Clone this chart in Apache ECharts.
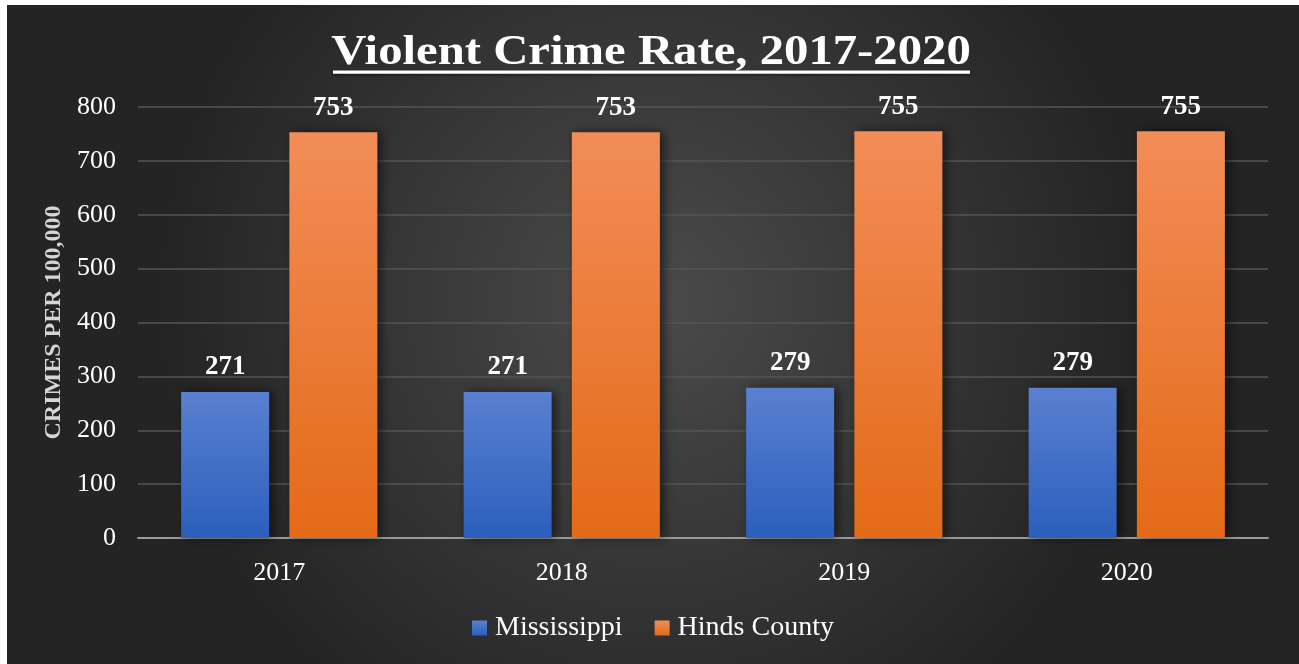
<!DOCTYPE html>
<html>
<head>
<meta charset="utf-8">
<script src="https://cdn.jsdelivr.net/npm/echarts@6/dist/echarts.min.js"></script>
<style>
  html, body { margin: 0; padding: 0; background: #ffffff; }
  #chart { position: absolute; left: 7px; top: 5px; width: 1292px; height: 659px; }
</style>
</head>
<body>
<div id="chart"></div>
<script>
const years = ['2017', '2018', '2019', '2020'];
const mississippi = [271, 271, 279, 279];
const hindsCounty = [753, 753, 755, 755];
const yTicks = [0, 100, 200, 300, 400, 500, 600, 700, 800];
const titleText = 'Violent Crime Rate, 2017-2020';

const serif = '"Liberation Serif", "Times New Roman", serif';
const chart = echarts.init(document.getElementById('chart'));

function barGradient(top, bottom) {
  return new echarts.graphic.LinearGradient(0, 0, 0, 1, [
    { offset: 0, color: top },
    { offset: 1, color: bottom }
  ]);
}

const labelStyle = {
  show: true,
  position: 'top',
  distance: 11,
  color: '#ffffff',
  fontFamily: serif,
  fontWeight: 'bold',
  fontSize: 27
};

const barShadow = {
  shadowColor: 'rgba(0,0,0,0.55)',
  shadowBlur: 10,
  shadowOffsetX: 4
};

chart.setOption({
  backgroundColor: {
    type: 'radial', x: 0.5, y: 0.45, r: 0.75,
    colorStops: [
      { offset: 0, color: '#4b4b4b' },
      { offset: 1, color: '#242424' }
    ]
  },
  graphic: [
    {
      // spaced-out, underlined heading
      type: 'text',
      x: 644,
      y: 48,
      scaleX: 1.16,
      style: {
        text: titleText,
        fill: '#ffffff',
        font: 'bold 42px ' + serif,
        align: 'center',
        verticalAlign: 'middle',
        shadowColor: 'rgba(0,0,0,0.6)',
        shadowBlur: 4,
        shadowOffsetX: 2,
        shadowOffsetY: 2
      }
    },
    {
      type: 'rect',
      shape: { x: 326, y: 65.5, width: 637, height: 3.2 },
      style: { fill: '#ffffff', shadowColor: 'rgba(0,0,0,0.6)', shadowBlur: 3, shadowOffsetY: 1 }
    }
  ],
  legend: {
    bottom: 17,
    left: 'center',
    itemWidth: 15,
    itemHeight: 15,
    itemGap: 32,
    icon: 'rect',
    textStyle: { color: '#ffffff', fontFamily: serif, fontSize: 28, padding: [0, 0, 0, 3] },
    data: ['Mississippi', 'Hinds County']
  },
  grid: { left: 131, right: 31, top: 102, bottom: 126, containLabel: false },
  xAxis: {
    type: 'category',
    data: years,
    axisLine: { lineStyle: { color: '#9a9a9a', width: 2 } },
    axisTick: { show: false },
    axisLabel: { color: '#ffffff', fontFamily: serif, fontSize: 26, margin: 22 }
  },
  yAxis: {
    type: 'value',
    min: yTicks[0],
    max: yTicks[yTicks.length - 1],
    interval: 100,
    name: 'CRIMES PER 100,000',
    nameLocation: 'middle',
    nameGap: 71,
    nameRotate: 90,
    nameTextStyle: { color: '#d6d6d6', fontFamily: serif, fontWeight: 'bold', fontSize: 24 },
    axisLine: { show: false },
    axisTick: { show: false },
    splitLine: { lineStyle: { color: '#545454', width: 1.5 } },
    axisLabel: { color: '#ffffff', fontFamily: serif, fontSize: 26, margin: 22 }
  },
  series: [
    {
      name: 'Mississippi',
      type: 'bar',
      data: mississippi,
      barWidth: 88,
      barGap: '23%',
      itemStyle: Object.assign({ color: barGradient('#5a80d0', '#2b5fbd') }, barShadow),
      label: labelStyle
    },
    {
      name: 'Hinds County',
      type: 'bar',
      data: hindsCounty,
      barWidth: 88,
      itemStyle: Object.assign({ color: barGradient('#f28d58', '#e46a17') }, barShadow),
      label: labelStyle
    }
  ]
});
</script>
</body>
</html>
